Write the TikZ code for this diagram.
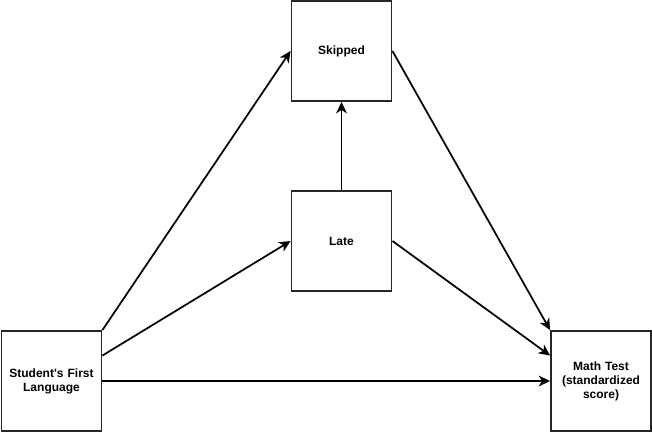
\documentclass[tikz,border=0pt]{standalone}
\usepackage{fontspec}
\setmainfont{Liberation Sans}
\usetikzlibrary{arrows.meta,calc}
\begin{document}
\begin{tikzpicture}[x=0.75pt,y=-0.75pt,
  box/.style={draw=black!85,line width=1.4pt,minimum width=75pt,minimum height=75pt,inner sep=0pt,
    align=center,font=\bfseries\fontsize{9}{10.5}\selectfont,text width=72pt},
  conn/.style={line width=1.3pt,-{Stealth[length=8.5pt,width=8pt,inset=2.5pt]}}]
\useasboundingbox (0,0) rectangle (652,432);
\node[box] (skipped) at (341.5,51) {Skipped};
\node[box] (late) at (341.5,241) {Late};
\node[box] (sfl) at (51.5,381) {Student\textquotesingle s First\\Language};
\node[box] (math) at (601,381) {Math Test\\(standardized\\score)};
\coordinate (sflq) at ($(sfl.north east)!0.25!(sfl.south east)$);
\coordinate (mathq) at ($(math.north west)!0.25!(math.south west)$);
\draw[conn] (sfl.north east) -- (skipped.west);
\draw[conn] (sflq) -- (late.west);
\draw[conn] (sfl.east) -- (math.west);
\draw[conn] (skipped.east) -- (math.north west);
\draw[conn] (late.east) -- (mathq);
\draw[conn] (late.north) -- (skipped.south);
\end{tikzpicture}
\end{document}
